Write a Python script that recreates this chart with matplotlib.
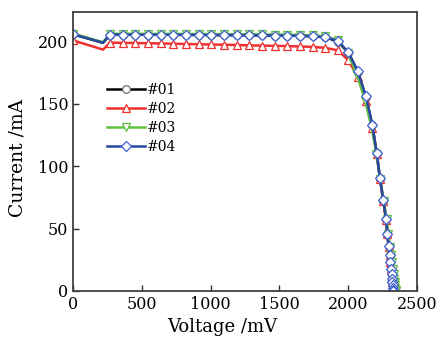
import numpy as np
import matplotlib.pyplot as plt

plt.rcParams['font.family'] = ['DejaVu Serif']
plt.rcParams['mathtext.fontset'] = 'dejavuserif'

# voltage (mV) and current (mA)
v01 = [0, 218, 269, 361, 453, 545, 637, 729, 821, 913, 1005, 1097, 1189, 1281,
       1373, 1465, 1557, 1649, 1741, 1833, 1925, 2001, 2069, 2129, 2175, 2207,
       2231, 2255, 2275, 2284, 2294, 2301, 2306, 2311, 2315, 2318, 2321, 2323,
       2325, 2327, 2328]
i01 = [206, 199, 205.6, 205.6, 205.6, 205.5, 205.5, 205.5, 205.4, 205.4, 205.3,
       205.2, 205.2, 205.1, 205.0, 204.9, 204.8, 204.6, 204.3, 203.5, 200.0,
       191.0, 176.0, 155.6, 133.0, 110.6, 90.0, 72.5, 57.6, 45.8, 35.6, 29.0,
       23.0, 18.0, 13.5, 10.0, 7.0, 4.5, 2.5, 1.0, 0]

v02 = [0, 218, 269, 361, 453, 545, 637, 729, 821, 913, 1005, 1097, 1189, 1281,
       1373, 1465, 1557, 1649, 1741, 1833, 1925, 2001, 2069, 2129, 2175, 2207,
       2231, 2255, 2275, 2284, 2294, 2301, 2306, 2311, 2315, 2318, 2321, 2323,
       2325, 2327, 2328]
i02 = [201, 193.6, 199.2, 199.0, 198.9, 198.7, 198.5, 198.3, 198.1, 197.9, 197.7,
       197.5, 197.3, 197.0, 196.8, 196.6, 196.4, 196.1, 195.8, 195.0, 193.0,
       185.0, 172.0, 152.0, 131.0, 110.0, 90.0, 72.0, 57.0, 45.5, 35.5, 29.0,
       23.0, 18.0, 13.5, 10.0, 7.0, 4.5, 2.5, 1.0, 0]

v03 = [0, 218, 269, 361, 453, 545, 637, 729, 821, 913, 1005, 1097, 1189, 1281,
       1373, 1465, 1557, 1649, 1741, 1833, 1925, 1995, 2060, 2122, 2170, 2205,
       2232, 2258, 2280, 2292, 2303, 2312, 2319, 2325, 2330, 2334, 2337, 2340,
       2342, 2344, 2345]
i03 = [206.5, 199.5, 206.3, 206.3, 206.3, 206.2, 206.2, 206.2, 206.1, 206.1, 206.0,
       206.0, 205.9, 205.9, 205.8, 205.7, 205.6, 205.4, 205.1, 204.3, 201.0,
       191.0, 175.0, 153.0, 131.0, 110.0, 90.0, 72.5, 57.6, 45.8, 35.6, 29.0,
       23.0, 18.0, 13.5, 10.0, 7.0, 4.5, 2.5, 1.0, 0]

v04 = [0, 218, 269, 361, 453, 545, 637, 729, 821, 913, 1005, 1097, 1189, 1281,
       1373, 1465, 1557, 1649, 1741, 1833, 1925, 2001, 2069, 2129, 2175, 2207,
       2231, 2255, 2275, 2284, 2294, 2301, 2306, 2311, 2315, 2318, 2321, 2323,
       2325, 2327, 2328]
i04 = [205.8, 199.2, 205.6, 205.6, 205.6, 205.5, 205.5, 205.5, 205.4, 205.4, 205.3,
       205.2, 205.2, 205.1, 205.0, 204.9, 204.8, 204.6, 204.3, 203.6, 200.5,
       191.5, 176.5, 156.0, 133.5, 111.0, 90.5, 73.0, 58.0, 46.0, 36.0, 29.0,
       23.0, 18.0, 13.5, 10.0, 7.0, 4.5, 2.5, 1.0, 0]

labels = ['#01', '#02', '#03', '#04']

fig = plt.figure(figsize=(4.44, 3.37), dpi=100)
ax = fig.add_axes([0.1644, 0.1365, 0.7748, 0.8288])

series = [(v01, i01, 'black', 'o', '#707070'),
          (v02, i02, '#f03030', '^', '#f03030'),
          (v03, i03, '#60c040', 'v', '#60c040'),
          (v04, i04, '#2848a0', 'D', '#4060d0')]
mark = [0] + list(range(2, len(v01)))
for (v, i, c, m, mec), lab in zip(series, labels):
    ax.plot(v, i, color=c, lw=1.8, marker=m, markersize=5.5 if m != 'D' else 4.6,
            markerfacecolor='white', markeredgecolor=mec, markeredgewidth=0.9,
            markevery=mark, label=lab)

ax.set_xlim(0, 2500)
ax.set_ylim(0, 224)
ax.set_xticks([0, 500, 1000, 1500, 2000, 2500])
ax.set_yticks([0, 50, 100, 150, 200])
ax.tick_params(direction='in', labelsize=11.5, length=4, width=1, colors='#303030')
ax.tick_params(labelcolor='black')
for s in ax.spines.values():
    s.set_linewidth(1.3)
    s.set_color('#404040')

ax.set_xlabel('Voltage /mV', fontsize=13)
ax.set_ylabel('Current /mA', fontsize=13.5)
ax.xaxis.set_label_coords(0.433, -0.097)
ax.yaxis.set_label_coords(-0.135, 0.477)

ax.legend(loc='upper left', bbox_to_anchor=(0.099, 0.745), frameon=False,
          fontsize=10, handlelength=2.7, handletextpad=0.2, labelspacing=0.37,
          borderaxespad=0, borderpad=0)

fig.savefig('out.png', dpi=100)
